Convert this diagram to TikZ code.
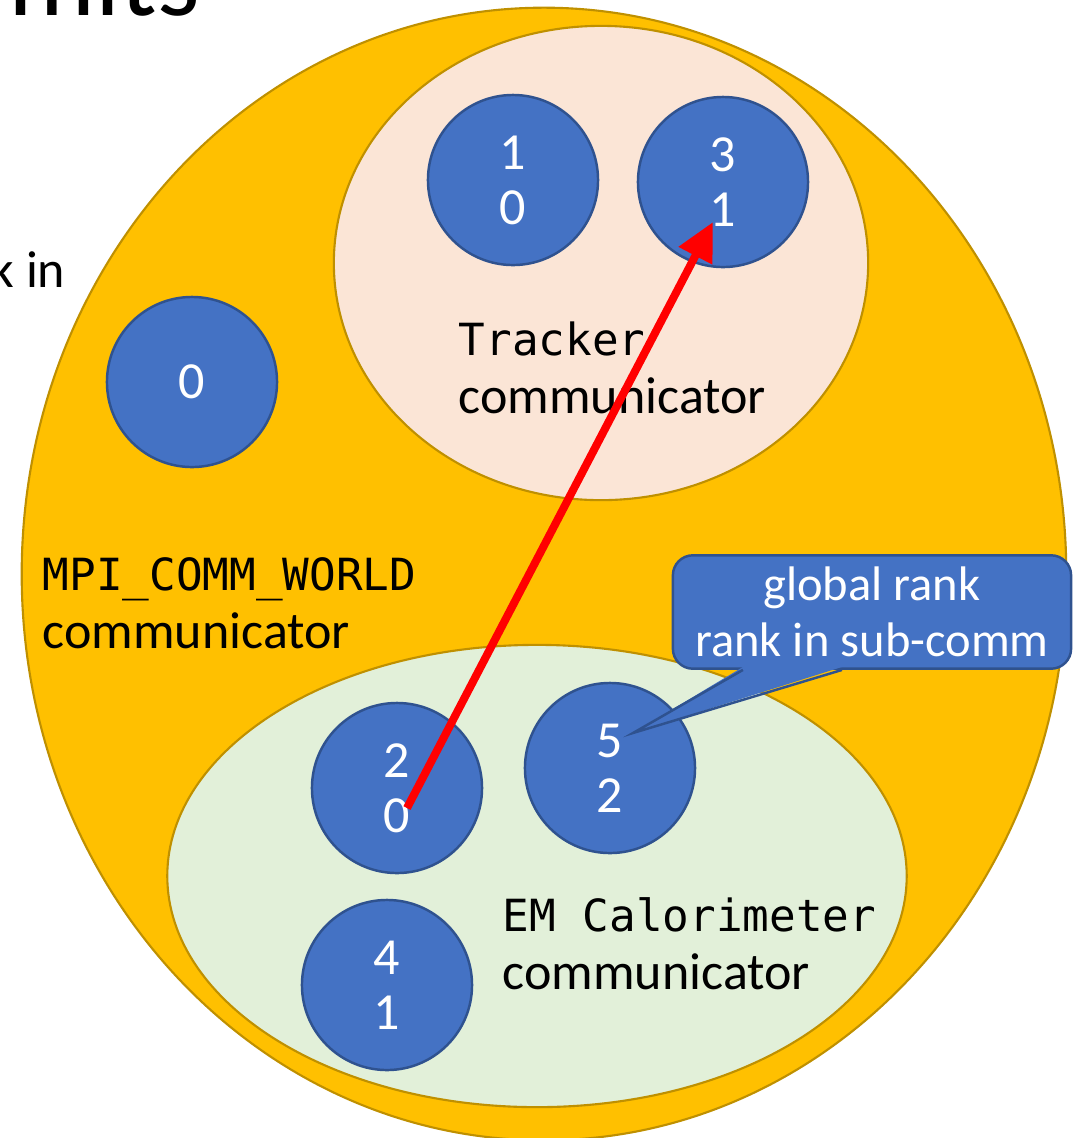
\documentclass[tikz,border=0pt]{standalone}
\usepackage{fontspec}
\setmainfont{Carlito}
\newfontfamily\codefont{DejaVu Sans Mono}
\usetikzlibrary{shapes.geometric,arrows.meta}
\definecolor{worldyellow}{HTML}{FFC000}
\definecolor{worldedge}{HTML}{BF9000}
\definecolor{trackfill}{HTML}{FBE5D6}
\definecolor{califill}{HTML}{E2F0D9}
\definecolor{rankblue}{HTML}{4472C4}
\definecolor{rankedge}{HTML}{2F528F}
\newcommand\code[1]{{\codefont\fontsize{12.6}{16.5}\selectfont #1}}

\begin{document}
\begin{tikzpicture}[x=0.01cm, y=-0.01cm,
	comm/.style={ellipse, draw=worldedge, line width=0.6pt, inner sep=0pt},
	rank/.style={circle, draw=rankedge, line width=0.7pt, fill=rankblue, minimum size=1.7cm, inner sep=0pt, text=white, align=center, font=\fontsize{14.8}{15.6}\selectfont},
	commlabel/.style={anchor=west, align=left, inner sep=0pt, font=\fontsize{14.8}{16.5}\selectfont},
	callout/.style={draw=rankedge, line width=0.7pt, fill=rankblue, rounded corners=0.2cm, minimum width=3.98cm, minimum height=1.13cm, text=white, align=center, font=\fontsize{13.8}{15.9}\selectfont}]
	\clip (0,0) rectangle (1074,1138);
	
	% Slide text cut off by the crop
	\node[anchor=base west, inner sep=0pt, font=\fontsize{31}{33}\selectfont] (title) at (8,15) {mits};
	\node[anchor=base east, inner sep=0pt, font=\fontsize{14.8}{16.5}\selectfont] (rankin) at (66,287) {k in};
	
	% Communicators
	\node[comm, fill=worldyellow, minimum width=10.44cm, minimum height=11.32cm] (world) at (544,574) {};
	\node[comm, fill=trackfill, minimum width=5.34cm, minimum height=4.74cm] (tracker) at (601,263) {};
	\node[comm, fill=califill, minimum width=7.39cm, minimum height=4.62cm] (calo) at (537,876) {};
	
	% Processes: global rank / rank in sub-comm
	\node[rank] (c0) at (192,382) {0};
	\node[rank] (c10) at (513,180) {1\\0};
	\node[rank] (c31) at (723,182) {3\\1};
	\node[rank] (c20) at (397,788) {2\\0};
	\node[rank] (c52) at (610,768) {5\\2};
	\node[rank] (c41) at (387,985) {4\\1};
	
	% Communicator names
	\node[commlabel] (trackerlbl) at (458,368) {\code{Tracker}\\communicator};
	\node[commlabel] (worldlbl) at (42,603) {\code{MPI\_COMM\_WORLD}\\communicator};
	\node[commlabel] (calolbl) at (502,944) {\code{EM Calorimeter}\\communicator};
	
	% Message from rank 2 to rank 3
	\draw[-{Triangle[length=0.38cm,width=0.36cm]}, red, line width=0.08cm] ([shift={(0.1cm,-0.2cm)}]c20.center) -- ([shift={(-0.1cm,-0.4cm)}]c31.center);
	
	% Callout
	\node[callout] (note) at (872,612) {global rank\\rank in sub-comm};
	\coordinate (tip) at (633,733);
	\fill[rankblue] ([xshift=-1.29cm,yshift=0.03cm]note.south) -- (tip) -- ([xshift=-0.3cm,yshift=0.03cm]note.south) -- cycle;
	\draw[rankedge, line width=0.7pt] ([xshift=-1.29cm]note.south) -- (tip) -- ([xshift=-0.3cm]note.south);
\end{tikzpicture}
\end{document}
